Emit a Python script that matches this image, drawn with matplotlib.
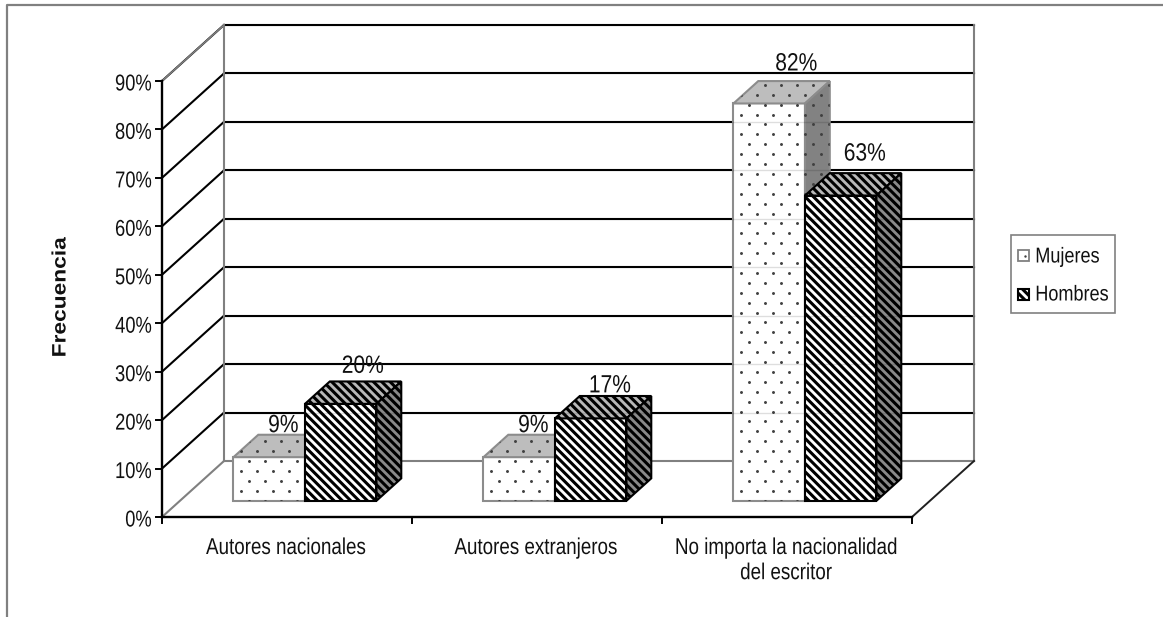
import numpy as np
import matplotlib
matplotlib.use("Agg")
import matplotlib.pyplot as plt
from matplotlib.patches import Polygon, Rectangle
from matplotlib.patheffects import AbstractPathEffect
from matplotlib.transforms import Affine2D

categorias = ["Autores nacionales", "Autores extranjeros",
              "No importa la nacionalidad\ndel escritor"]
mujeres = [9, 9, 82]
hombres = [20, 17, 63]
marcas_y = [0, 10, 20, 30, 40, 50, 60, 70, 80, 90]
series = ["Mujeres", "Hombres"]

# label nudges, px, the 3d labels do not sit at a fixed place over the bars
nudge_m = [(14, -32), (14, -32), (27, -40)]
nudge_h = [(22, -38), (19, -33), (24, -42)]

FONT = ["Liberation Sans", "DejaVu Sans"]
GRIS = "#808080"
RAYAS = "\\" * 4


class Ancho(AbstractPathEffect):
    # the original font is a squeezed Arial, squeeze the glyphs in place
    def __init__(self, f, lado="centro"):
        super().__init__()
        self.f = f
        self.lado = lado

    def draw_path(self, renderer, gc, tpath, affine, rgbFace=None):
        e = tpath.get_extents()
        if self.lado == "der":
            c = e.x1
        elif self.lado == "izq":
            c = e.x0
        else:
            c = (e.x0 + e.x1) / 2
        t = Affine2D().translate(-c, 0).scale(self.f, 1).translate(c, 0) + affine
        renderer.draw_path(gc, tpath, t, rgbFace)


# fake 3d projection, everything is in pixels of the picture
X0, Y0 = 162, 517
ANCHO_CAT = 250
PX_POR_PCT = 4.845
FONDO_X, FONDO_Y = 62, -56


def proj(cat, pct, z=0.0):
    return (X0 + ANCHO_CAT * cat + FONDO_X * z,
            Y0 - PX_POR_PCT * pct + FONDO_Y * z)


plt.rcParams["hatch.linewidth"] = 2.2
fig = plt.figure(figsize=(11.63, 6.17), dpi=100)
ax = fig.add_axes([0, 0, 1, 1])
ax.set_xlim(0, 1163)
ax.set_ylim(617, 0)
ax.axis("off")

# outer frame
ax.plot([7, 7, 1163], [617, 5, 5], color=GRIS, lw=1.6, zorder=1)

# walls
n = len(categorias)
top = marcas_y[-1]
for m in marcas_y:
    color = GRIS if m == 0 else "black"
    ax.plot(*zip(proj(0, m, 1), proj(n, m, 1)), color=color, lw=1.5, zorder=2)
    ax.plot(*zip(proj(0, m, 0), proj(0, m, 1)), color=color, lw=1.5, zorder=2)
    if m:
        # grid shows faintly through the bars
        ax.plot(*zip(proj(0, m, 1), proj(n, m, 1)), color="black", lw=1.0,
                alpha=0.13, zorder=6)
ax.plot(*zip(proj(0, top, 0), proj(0, top, 1)), color=GRIS, lw=1.2, zorder=2)
ax.plot(*zip(proj(0, 0, 1), proj(0, top, 1)), color=GRIS, lw=1.5, zorder=2)
ax.plot(*zip(proj(n, 0, 1), proj(n, top, 1)), color=GRIS, lw=1.5, zorder=2)
ax.plot(*zip(proj(n, 0, 0), proj(n, 0, 1)), color="#202020", lw=1.4, zorder=2)

# axes
ax.plot(*zip(proj(0, 0), proj(0, top)), color="black", lw=1.7, zorder=3)
ax.plot(*zip(proj(0, 0), proj(n, 0)), color="black", lw=1.7, zorder=3)
for m in marcas_y:
    x, y = proj(0, m)
    ax.plot([x - 6, x], [y, y], color="black", lw=1.4, zorder=3)
    ax.text(x - 10, y + 3, f"{m}%", ha="right", va="center", fontsize=16.5,
            family=FONT, color="#111111", zorder=7,
            path_effects=[Ancho(0.8, "der")])
for i in range(n + 1):
    x, y = proj(i, 0)
    ax.plot([x, x], [y, y + 6], color="black", lw=1.4, zorder=3)
for i, c in enumerate(categorias):
    x, y = proj(i + 0.5, 0)
    ax.text(x - 1, y + 19, c, ha="center", va="top", fontsize=16.5,
            family=FONT, color="#111111", linespacing=1.12, zorder=7,
            path_effects=[Ancho(0.82)])

ax.text(61, 297, "Frecuencia", rotation=90, ha="center", va="center",
        fontsize=14, fontweight="bold", family=FONT, color="#111111",
        path_effects=[Ancho(1.17)])

# bars
ANCHO_BARRA = 71.5 / ANCHO_CAT
Z_FRENTE = 0.29
Z_FONDO = 0.69


def cara(pts, zorder, **kw):
    p = Polygon(pts, closed=True, zorder=zorder, joinstyle="miter", **kw)
    ax.add_patch(p)
    return p


def puntos(p, x0, y0, zorder):
    # dot fill: one screen lattice, clipped to the face
    xs = [q[0] for q in p.get_xy()]
    ys = [q[1] for q in p.get_xy()]
    px, py = [], []
    for k, y in enumerate(np.arange(y0 - 500, y0 + 10, 9.9)):
        if y < min(ys) or y > max(ys):
            continue
        for x in np.arange(x0 + (8 if k % 2 else 0), max(xs) + 1, 16):
            px.append(x)
            py.append(y)
    s = ax.scatter(px, py, s=4.5, color="#404040", linewidths=0, zorder=zorder)
    s.set_clip_path(p)


def barra(x, pct, zorder, estilo):
    a = proj(x, 0, Z_FRENTE)
    b = proj(x + ANCHO_BARRA, 0, Z_FRENTE)
    c = proj(x + ANCHO_BARRA, pct, Z_FRENTE)
    d = proj(x, pct, Z_FRENTE)
    b2 = proj(x + ANCHO_BARRA, 0, Z_FONDO)
    c2 = proj(x + ANCHO_BARRA, pct, Z_FONDO)
    d2 = proj(x, pct, Z_FONDO)
    if estilo == "m":
        kw = dict(edgecolor="#8c8c8c", lw=1.5)
        f = cara([a, b, c, d], zorder, facecolor="white", **kw)
        t = cara([d, c, c2, d2], zorder, facecolor="#bdbdbd", **kw)
        l = cara([b, b2, c2, c], zorder, facecolor="#828282", **kw)
        for p in (f, t, l):
            puntos(p, a[0] + 8, a[1] - 5, zorder + 0.1)
    else:
        kw = dict(edgecolor="black", lw=1.5, hatch=RAYAS)
        cara([a, b, c, d], zorder, facecolor="white", **kw)
        cara([d, c, c2, d2], zorder, facecolor="#b8b8b8", **kw)
        cara([b, b2, c2, c], zorder, facecolor="#8a8a8a", **kw)
    return d


for i in range(n):
    d = barra(i + 0.5 - ANCHO_BARRA, mujeres[i], 4, "m")
    cx = d[0] + ANCHO_BARRA * ANCHO_CAT / 2
    ax.text(cx + nudge_m[i][0], d[1] + nudge_m[i][1], f"{mujeres[i]}%",
            ha="center", va="center", fontsize=18, family=FONT,
            color="#111111", zorder=4.5 if i < 2 else 7,
            path_effects=[Ancho(0.84)])
    d = barra(i + 0.5, hombres[i], 5, "h")
    cx = d[0] + ANCHO_BARRA * ANCHO_CAT / 2
    ax.text(cx + nudge_h[i][0], d[1] + nudge_h[i][1], f"{hombres[i]}%",
            ha="center", va="center", fontsize=18, family=FONT,
            color="#111111", zorder=7, path_effects=[Ancho(0.84)])

# legend box, squeezed text would not fit ax.legend's own sizing
ax.add_patch(Rectangle((1011, 235), 104, 78, facecolor="white", edgecolor=GRIS,
                       lw=1.2, zorder=8))
ax.add_patch(Rectangle((1018, 250), 11, 11, facecolor="white", edgecolor=GRIS,
                       lw=1.3, zorder=9))
ax.scatter([1025], [256], s=3, color="#404040", linewidths=0, zorder=10)
ax.add_patch(Rectangle((1018, 289), 11, 11, facecolor="white", edgecolor="black",
                       lw=1.5, hatch=RAYAS, zorder=9))
for nombre, y in zip(series, [257, 295]):
    ax.text(1035, y, nombre, ha="left", va="center", fontsize=15.5, family=FONT,
            color="#111111", zorder=9, path_effects=[Ancho(0.84, "izq")])

fig.savefig("out.png", dpi=100)
